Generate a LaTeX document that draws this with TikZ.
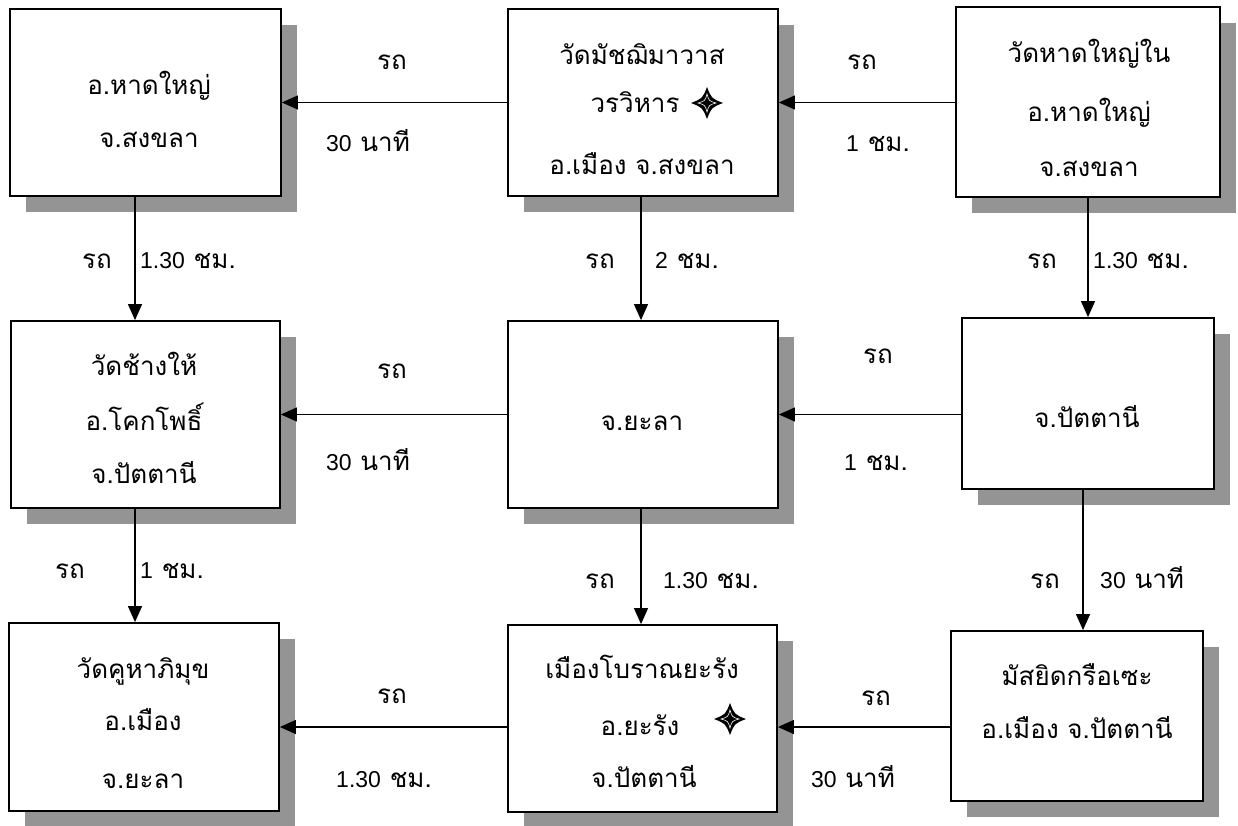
\documentclass[tikz,border=0pt]{standalone}
\usepackage{fontspec}
\setmainfont[Script=Thai]{Loma}
\newfontfamily\lat{Liberation Sans}
\usetikzlibrary{arrows.meta,shadows}
\newcommand\dg[1]{{\lat\fontsize{23}{27}\selectfont #1}}
\tikzset{
  box/.style={draw,line width=1.8pt,fill=white,inner sep=0pt,
    drop shadow={shadow xshift=16pt,shadow yshift=-16pt,fill=black!42,opacity=1}},
  txt/.style={anchor=base,inner sep=0pt,font=\fontsize{26}{30}\selectfont},
  lbl/.style={txt},
  lblw/.style={txt,anchor=base west},
  arr/.style={line width=1.2pt,-{Triangle[length=16pt,width=14pt]}},
  pics/fourstar/.style={code={
    \fill[black] (0,-16) .. controls (4.5,-4.5) .. (16,0) .. controls (4.5,4.5) .. (0,16)
       .. controls (-4.5,4.5) .. (-16,0) .. controls (-4.5,-4.5) .. cycle;
    \draw[white,line width=0.6pt] (0,-9) .. controls (2,-2) .. (9,0) .. controls (2,2) .. (0,9)
       .. controls (-2,2) .. (-9,0) .. controls (-2,-2) .. cycle;
  }}
}
\begin{document}
\begin{tikzpicture}[x=1pt,y=-1pt]
\useasboundingbox (0,0) rectangle (1238,826);
% boxes
\node[box,minimum width=271pt,minimum height=187pt] (A) at (145.5,102.5) {};
\node[box,minimum width=270pt,minimum height=187pt] (B) at (643,102.5) {};
\node[box,minimum width=264pt,minimum height=190pt] (C) at (1088,102) {};
\node[box,minimum width=269pt,minimum height=187pt] (D) at (145.5,414.5) {};
\node[box,minimum width=270pt,minimum height=187pt] (E) at (643,414.5) {};
\node[box,minimum width=252pt,minimum height=171pt] (F) at (1088,403.5) {};
\node[box,minimum width=270pt,minimum height=188pt] (G) at (144,717) {};
\node[box,minimum width=269pt,minimum height=187pt] (H) at (642.5,718.5) {};
\node[box,minimum width=252pt,minimum height=170pt] (I) at (1077,716) {};
% box texts
\node[txt] (a1) at (149,95) {อ.หาดใหญ่};
\node[txt] (a2) at (149,148) {จ.สงขลา};
\node[txt] (b1) at (642,65) {วัดมัชฌิมาวาส};
\node[txt] (b2) at (635,113) {วรวิหาร};
\node[txt] (b3) at (642,175) {อ.เมือง จ.สงขลา};
\node[txt] (c1) at (1089,63) {วัดหาดใหญ่ใน};
\node[txt] (c2) at (1089,122) {อ.หาดใหญ่};
\node[txt] (c3) at (1089,177) {จ.สงขลา};
\node[txt] (d1) at (144,375) {วัดช้างให้};
\node[txt] (d2) at (144,430) {อ.โคกโพธิ์};
\node[txt] (d3) at (144,483) {จ.ปัตตานี};
\node[txt] (e1) at (642,430) {จ.ยะลา};
\node[txt] (f1) at (1087,427) {จ.ปัตตานี};
\node[txt] (g1) at (143,678) {วัดคูหาภิมุข};
\node[txt] (g2) at (143,730) {อ.เมือง};
\node[txt] (g3) at (143,788) {จ.ยะลา};
\node[txt] (h1) at (642,678) {เมืองโบราณยะรัง};
\node[txt] (h2) at (640,735) {อ.ยะรัง};
\node[txt] (h3) at (644,787) {จ.ปัตตานี};
\node[txt] (i1) at (1077,685) {มัสยิดกรือเซะ};
\node[txt] (i2) at (1077,738) {อ.เมือง จ.ปัตตานี};
% stars
\pic at (707,103) {fourstar};
\pic at (730,719) {fourstar};
% guide coordinates
\coordinate (row3) at (0,727);
\coordinate (col1) at (135,0);
\coordinate (col2) at (641,0);
\coordinate (col3) at (1083,0);
% connectors
\draw[arr] (C.west |- B) -- (B.east);
\draw[arr] (B.west) -- (A.east);
\draw[arr] (F.west |- E) -- (E.east);
\draw[arr] (E.west) -- (D.east);
\draw[arr] (I.west |- row3) -- (H.east |- row3);
\draw[arr] (H.west |- row3) -- (G.east |- row3);
\draw[arr] (A.south -| col1) -- (D.north -| col1);
\draw[arr] (D.south -| col1) -- (G.north -| col1);
\draw[arr] (B.south -| col2) -- (E.north -| col2);
\draw[arr] (E.south -| col2) -- (H.north -| col2);
\draw[arr] (C.south) -- (F.north);
\draw[arr] (F.south -| col3) -- (I.north -| col3);
% labels horizontal
\node[lbl] (l1) at (392,70) {รถ};
\node[lbl] (l2) at (368,152) {\dg{30} นาที};
\node[lbl] (l3) at (862,70) {รถ};
\node[lbl] (l4) at (878,152) {\dg{1} ชม.};
\node[lbl] (l5) at (392,378) {รถ};
\node[lbl] (l6) at (368,470) {\dg{30} นาที};
\node[lbl] (l7) at (878,363) {รถ};
\node[lbl] (l8) at (876,470) {\dg{1} ชม.};
\node[lbl] (l9) at (392,703) {รถ};
\node[lbl] (l10) at (384,787) {\dg{1.30} ชม.};
\node[lbl] (l11) at (876,705) {รถ};
\node[lbl] (l12) at (853,787) {\dg{30} นาที};
% labels vertical
\node[lbl] (v1) at (97,268) {รถ};
\node[lblw] (v2) at (140,268) {\dg{1.30} ชม.};
\node[lbl] (v3) at (600,268) {รถ};
\node[lblw] (v4) at (655,268) {\dg{2} ชม.};
\node[lbl] (v5) at (1042,268) {รถ};
\node[lblw] (v6) at (1093,268) {\dg{1.30} ชม.};
\node[lbl] (v7) at (70,578) {รถ};
\node[lblw] (v8) at (140,578) {\dg{1} ชม.};
\node[lbl] (v9) at (600,588) {รถ};
\node[lblw] (v10) at (663,588) {\dg{1.30} ชม.};
\node[lbl] (v11) at (1045,588) {รถ};
\node[lblw] (v12) at (1100,588) {\dg{30} นาที};
\end{tikzpicture}
\end{document}
